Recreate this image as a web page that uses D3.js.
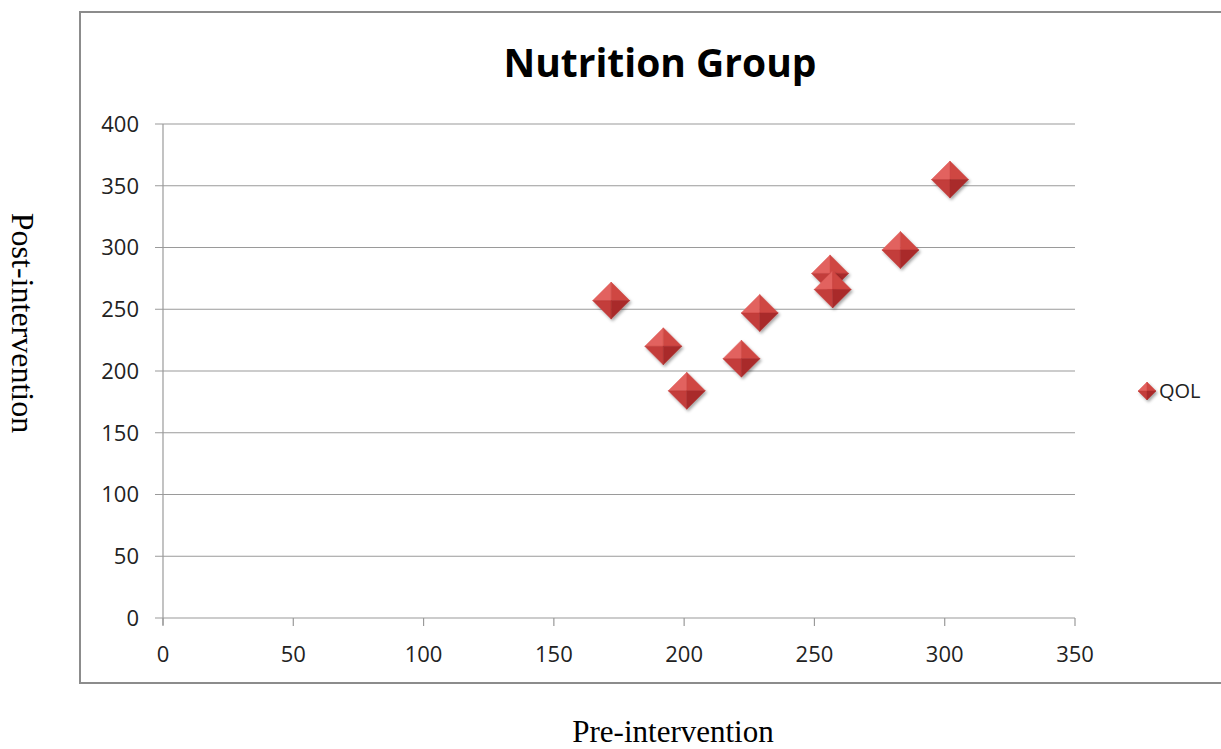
<!DOCTYPE html>
<html><head><meta charset="utf-8">
<script src="https://cdn.jsdelivr.net/npm/d3@7"></script>
<style>body{margin:0;background:#fff;} svg{display:block;}</style>
</head><body>
<script>
const preValues = [172, 192, 201, 222, 229, 256, 257, 283, 302];
const postValues = [257, 220, 184, 210, 247, 279, 266, 298, 355];
const xTicks = [0, 50, 100, 150, 200, 250, 300, 350];
const yTicks = [0, 50, 100, 150, 200, 250, 300, 350, 400];
const seriesName = "QOL";
const title = "Nutrition Group";

const W = 1221, H = 749;
const svg = d3.select("body").append("svg").attr("width", W).attr("height", H);
const defs = svg.append("defs");
const f = defs.append("filter").attr("id","sh").attr("x","-50%").attr("y","-50%").attr("width","200%").attr("height","200%");
f.append("feDropShadow").attr("dx",1.5).attr("dy",2).attr("stdDeviation",1.5).attr("flood-color","#000").attr("flood-opacity",0.35);

// chart frame
svg.append("rect").attr("x",80).attr("y",12).attr("width",1150).attr("height",671)
  .attr("fill","#fff").attr("stroke","#8c8c8c").attr("stroke-width",2);

const x = d3.scaleLinear().domain([0,350]).range([163,1075]);
const y = d3.scaleLinear().domain([0,400]).range([618,124]);

// gridlines
svg.append("g").selectAll("line").data(yTicks).join("line")
  .attr("x1",155).attr("x2",1075).attr("y1",d=>y(d)).attr("y2",d=>y(d))
  .attr("stroke","#9a9a9a").attr("stroke-width",1.2);
// y axis line
svg.append("line").attr("x1",163).attr("x2",163).attr("y1",124).attr("y2",625).attr("stroke","#9a9a9a").attr("stroke-width",1.2);
// x ticks
svg.append("g").selectAll("line").data(xTicks).join("line")
  .attr("x1",d=>x(d)).attr("x2",d=>x(d)).attr("y1",618).attr("y2",626)
  .attr("stroke","#9a9a9a").attr("stroke-width",1.2);

const tickFont = "'Open Sans', sans-serif";
svg.append("g").selectAll("text").data(yTicks).join("text")
  .attr("x",139).attr("y",d=>y(d)).attr("dy","0.36em").attr("text-anchor","end")
  .attr("font-family",tickFont).attr("font-size",22).attr("fill","#222").text(d=>d);
svg.append("g").selectAll("text").data(xTicks).join("text")
  .attr("x",d=>x(d)).attr("y",662).attr("text-anchor","middle")
  .attr("font-family",tickFont).attr("font-size",22).attr("fill","#222").text(d=>d);

svg.append("text").attr("x",660).attr("y",77).attr("text-anchor","middle")
  .attr("font-family",tickFont).attr("font-weight","bold").attr("font-size",39).attr("fill","#000").text(title);

svg.append("text").attr("x",673).attr("y",742).attr("text-anchor","middle")
  .attr("font-family","'Liberation Serif', 'Times New Roman', serif").attr("font-size",31).attr("fill","#000").text("Pre-intervention");
svg.append("text").attr("transform","translate(12,323) rotate(90)").attr("text-anchor","middle")
  .attr("font-family","'Liberation Serif', 'Times New Roman', serif").attr("font-size",32).attr("fill","#000").text("Post-intervention");

function diamond(g, s) {
  const facets = [
    {pts:[[0,-s],[-s,0],[0,0]], c:"#e2625e"},
    {pts:[[0,-s],[s,0],[0,0]], c:"#cf4643"},
    {pts:[[-s,0],[0,s],[0,0]], c:"#c33c3a"},
    {pts:[[s,0],[0,s],[0,0]], c:"#a92b2a"}
  ];
  const gg = g.append("g").attr("filter","url(#sh)");
  gg.selectAll("path").data(facets).join("path")
    .attr("d",d=>"M"+d.pts.map(p=>p.join(",")).join("L")+"Z")
    .attr("fill",d=>d.c).attr("stroke",d=>d.c).attr("stroke-width",0.5);
}

const data = preValues.map((v,i)=>({pre:v, post:postValues[i]}));
svg.append("g").selectAll("g").data(data).join("g")
  .attr("transform",d=>`translate(${x(d.pre)},${y(d.post)})`)
  .each(function(){ diamond(d3.select(this), 18.5); });

// legend
const lg = svg.append("g").attr("transform","translate(1147,391)");
diamond(lg, 9);
svg.append("text").attr("x",1159).attr("y",391).attr("dy","0.36em")
  .attr("font-family",tickFont).attr("font-size",20).attr("fill","#222").text(seriesName);
</script>
</body></html>
